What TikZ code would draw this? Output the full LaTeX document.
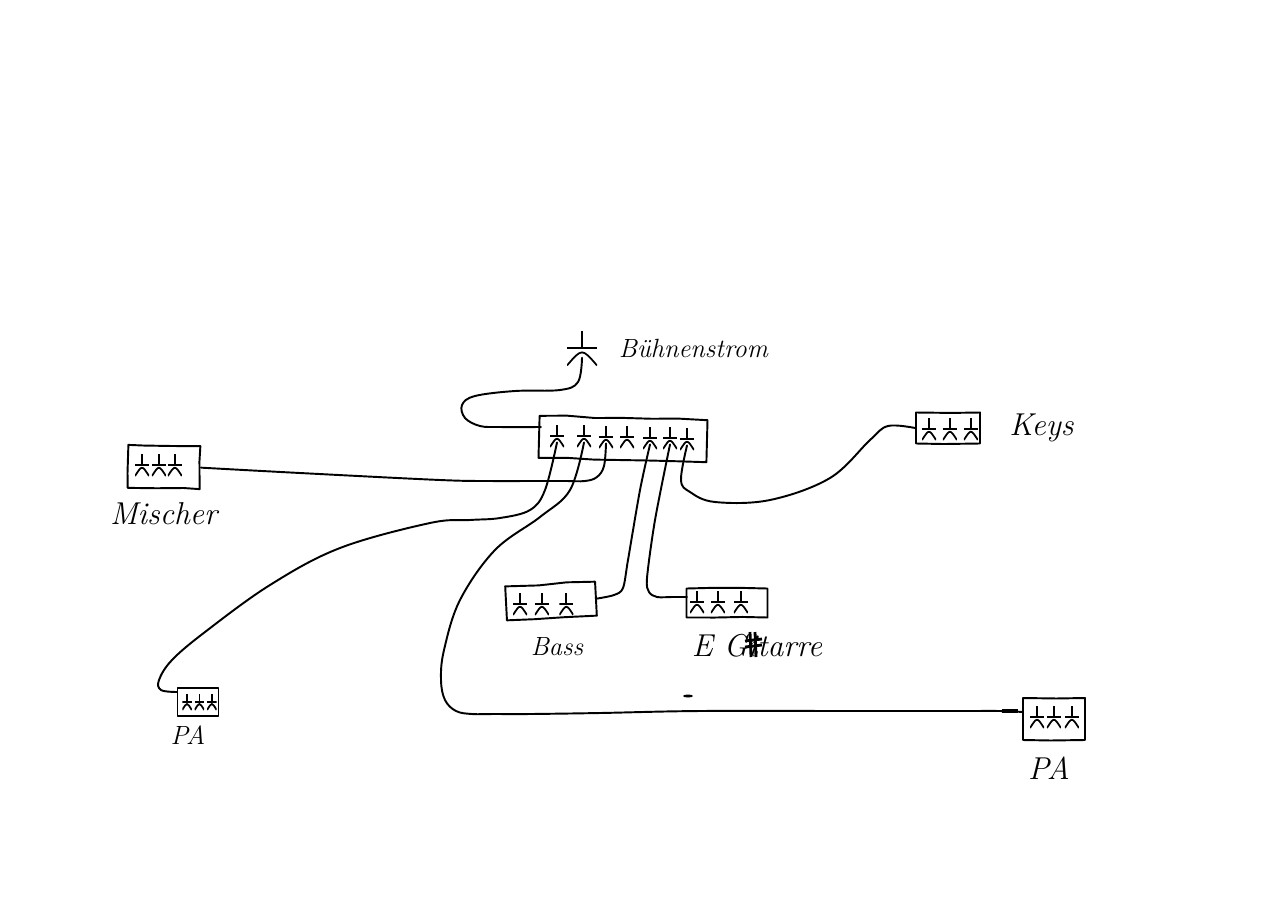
\documentclass[tikz,border=0pt]{standalone}
\usetikzlibrary{positioning,decorations.pathmorphing}

\begin{document}
\begin{tikzpicture}[
     x=0.02cm, y=-0.02cm,
     line width=1.1pt,
     node distance = 3mm and 1mm,
      rough/.style = {decorate, decoration={random steps, segment length=16pt, amplitude=.5pt}},
        box/.style = {rectangle, draw, rough, inner sep=0pt, line join=round},
      cable/.style = {line width=1.1pt, line cap=round, line join=round},
     socket/.style = {rectangle, inner sep=0pt, minimum width=2.8mm, minimum height=4.4mm,
                      path picture={
                        \draw[line width=1pt] (path picture bounding box.west) -- (path picture bounding box.east);
                        \draw[line width=1pt] (path picture bounding box.north) -- (path picture bounding box.center);
                        \draw[line width=1pt] (path picture bounding box.south west) .. controls (path picture bounding box.center) .. (path picture bounding box.south east);
                      }},
   smallsocket/.style = {socket, minimum width=1.9mm, minimum height=3.2mm},
    caption/.style = {inner sep=0pt, font=\fontsize{15}{17}\selectfont\itshape},
 bigcaption/.style = {inner sep=0pt, font=\fontsize{18}{20}\selectfont\itshape}
                        ]
\useasboundingbox (0,0) rectangle (1280,906);
% distribution strip
\node (strip)[box, minimum width=33.6mm, minimum height=8.4mm, rotate=-1.5] at (623,439) {};
\node (strip1)[socket] at (557,436) {};
\node (strip2)[socket] at (584,436) {};
\node (strip3)[socket] at (606,437) {};
\node (strip4)[socket] at (627,437) {};
\node (strip5)[socket] at (650,438) {};
\node (strip6)[socket] at (670,438) {};
\node (strip7)[socket] at (687,439) {};
\coordinate (stripin) at (541,427);
% stage power
\node (mains)[socket, minimum width=6mm, minimum height=7mm] at (582,348) {};
\node (mainslabel)[caption, right=4mm of mains] {B\"uhnenstrom};
% mixer
\node (mixer)[box, minimum width=14.4mm, minimum height=8.6mm, rotate=-1] at (164,467) {};
\node (mixer1)[socket] at (142,465) {};
\node (mixer2)[socket, right=0.2mm of mixer1] {};
\node (mixer3)[socket, right=0mm of mixer2] {};
\node (mixerlabel)[bigcaption, below=2.5mm of mixer] {Mischer};
% keys
\node (keys)[box, minimum width=12.8mm, minimum height=6.2mm] at (948,428) {};
\node (keys1)[socket] at (929,429) {};
\node (keys2)[socket, right=of keys1] {};
\node (keys3)[socket, right=of keys2] {};
\node (keyslabel)[bigcaption, right=5.5mm of keys] {Keys};
% bass
\node (bass)[box, minimum width=18mm, minimum height=6.8mm, rotate=3] at (551,601) {};
\node (bass1)[socket] at (520,604) {};
\node (bass2)[socket, right=1.2mm of bass1] {};
\node (bass3)[socket, right=1.7mm of bass2] {};
\node (basslabel)[caption, below=3.5mm of bass, xshift=1mm] {Bass};
% guitar
\node (guitar)[box, minimum width=16.2mm, minimum height=5.8mm] at (727,603) {};
\node (guitar1)[socket] at (697,602) {};
\node (guitar2)[socket, right=1mm of guitar1] {};
\node (guitar3)[socket, right=1.4mm of guitar2] {};
\node (guitarlabel)[bigcaption, below=3mm of guitar, xshift=6mm] {E Gitarre};
\coordinate (guitarin) at (687,597);
% small PA
\node (paleft)[box, minimum width=8.2mm, minimum height=5.6mm] at (198,702) {};
\node (paleft1)[smallsocket] at (187,702) {};
\node (paleft2)[smallsocket, right=0.2mm of paleft1] {};
\node (paleft3)[smallsocket, right=0.2mm of paleft2] {};
\node (paleftlabel)[caption, below=1.5mm of paleft, xshift=-2mm] {PA};
\coordinate (paleftin) at (177,692);
% big PA
\node (paright)[box, minimum width=12.4mm, minimum height=8.4mm] at (1054,719) {};
\node (paright1)[socket] at (1037,717) {};
\node (paright2)[socket, right=0.2mm of paright1] {};
\node (paright3)[socket, right=0.4mm of paright2] {};
\node (parightlabel)[bigcaption, below=3mm of paright, xshift=-1mm] {PA};
\coordinate (parightin) at (1023,712);
% cables
\draw[cable] plot[smooth, tension=.6] coordinates {(stripin) (500,427) (480,426) (465,418) (462,405) (475,396) (515,391) (560,390) (578,382) ([yshift=1.75mm]mains.south)};
\draw[cable] plot[smooth, tension=.6] coordinates {([yshift=1.1mm]strip3.south) (604,466) (597,477) (585,481) (565,481) (530,481) (490,481) (440,480) (300,473) (mixer.east)};
\draw[cable] plot[smooth, tension=.6] coordinates {([yshift=1.1mm]strip1.south) (545,490) (530,510) (500,518) (470,520) (430,523) (340,548) (270,585) (205,632) (172,660) (159,680) (161,690) (paleftin)};
\draw[cable] plot[smooth, tension=.6] coordinates {([yshift=1.1mm]strip2.south) (570,490) (540,517) (495,550) (460,600) (444,650) (441,680) (445,700) (456,711) (472,714) (495,714) (530,714) (600,713) (700,711) (850,711) (960,711) (1000,711) (parightin)};
\draw[cable] plot[smooth, tension=.5] coordinates {([yshift=1.1mm]strip5.south) (640,490) (628,560) (623,588) (614,595) (bass.east)};
\draw[cable] plot[smooth, tension=.5] coordinates {([yshift=1.1mm]strip6.south) (655,520) (647,578) (649,592) (657,597) (672,597) (guitarin)};
\draw[cable] plot[smooth, tension=.6] coordinates {([yshift=1.1mm]strip7.south) (681,480) (690,492) (715,502) (770,500) (830,478) (870,440) (888,426) (keys.west)};
\coordinate (plugstart) at (1002,711);
\coordinate (plugend) at (1018,711);
\draw[line width=2.2pt] (plugstart) -- (plugend);
% marks on the sheet
\fill (688,696) ellipse (5 and 1.5);
\draw[line width=1.6pt] (750,632) -- (751,657) (755,632) -- (756,657) (745,641) -- (762,639) (745,647) -- (762,645);
\end{tikzpicture}
\end{document}
